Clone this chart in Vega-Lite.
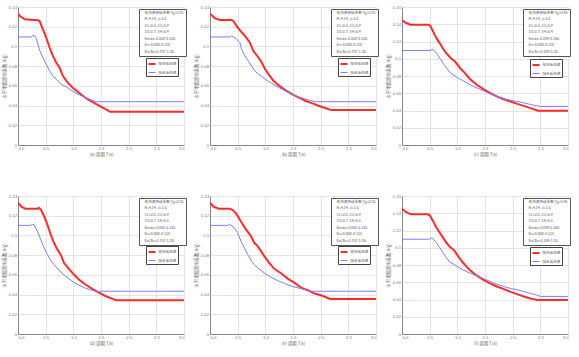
{
"$schema":"https://vega.github.io/schema/vega-lite/v6.json",
"background":"white",
"padding":{"left":1,"top":4,"right":2,"bottom":2},
"spacing":36,
"resolve":{"scale":{"color":"independent","strokeWidth":"independent","shape":"independent"},"legend":{"color":"independent","strokeWidth":"independent","shape":"independent"}},
"config":{
 "view":{"stroke":"#d8d8d8"},
 "concat":{"spacing":6},
 "axis":{"labelFontSize":4.2,"titleFontSize":4.4,"labelColor":"#777","titleColor":"#666","gridColor":"#e4e4e4","domainColor":"#888","tickSize":0,"labelPadding":1.5,"titlePadding":1.5,"labelFont":"Liberation Sans","titleFont":"Noto Sans CJK SC","titleFontWeight":"normal"},
 "legend":{"labelFont":"Noto Sans CJK SC","labelColor":"#555"}
},
"datasets":{
"p1":[
{"s":"规范反应谱","T":0,"v":0.1333},{"s":"规范反应谱","T":0.04,"v":0.1305},{"s":"规范反应谱","T":0.12,"v":0.1275},{"s":"规范反应谱","T":0.36,"v":0.1265},{"s":"规范反应谱","T":0.39,"v":0.1258},{"s":"规范反应谱","T":0.45,"v":0.1174},{"s":"规范反应谱","T":0.51,"v":0.109},{"s":"规范反应谱","T":0.57,"v":0.0989},{"s":"规范反应谱","T":0.63,"v":0.0904},{"s":"规范反应谱","T":0.69,"v":0.0837},{"s":"规范反应谱","T":0.75,"v":0.0786},{"s":"规范反应谱","T":0.81,"v":0.0702},{"s":"规范反应谱","T":0.875,"v":0.0651},{"s":"规范反应谱","T":0.935,"v":0.0611},{"s":"规范反应谱","T":0.996,"v":0.0577},{"s":"规范反应谱","T":1.117,"v":0.0523},{"s":"规范反应谱","T":1.237,"v":0.0472},{"s":"规范反应谱","T":1.358,"v":0.0432},{"s":"规范反应谱","T":1.479,"v":0.0395},{"s":"规范反应谱","T":1.6,"v":0.0358},{"s":"规范反应谱","T":1.66,"v":0.0337},{"s":"规范反应谱","T":3.0,"v":0.0337},
{"s":"拟合反应谱","T":0,"v":0.1096},{"s":"拟合反应谱","T":0.24,"v":0.1096},{"s":"拟合反应谱","T":0.27,"v":0.111},{"s":"拟合反应谱","T":0.3,"v":0.111},{"s":"拟合反应谱","T":0.33,"v":0.1083},{"s":"拟合反应谱","T":0.36,"v":0.1022},{"s":"拟合反应谱","T":0.39,"v":0.0961},{"s":"拟合反应谱","T":0.45,"v":0.0887},{"s":"拟合反应谱","T":0.51,"v":0.082},{"s":"拟合反应谱","T":0.57,"v":0.0752},{"s":"拟合反应谱","T":0.63,"v":0.0702},{"s":"拟合反应谱","T":0.69,"v":0.0668},{"s":"拟合反应谱","T":0.75,"v":0.0634},{"s":"拟合反应谱","T":0.81,"v":0.0607},{"s":"拟合反应谱","T":0.875,"v":0.059},{"s":"拟合反应谱","T":0.996,"v":0.0543},{"s":"拟合反应谱","T":1.117,"v":0.0506},{"s":"拟合反应谱","T":1.237,"v":0.0476},{"s":"拟合反应谱","T":1.358,"v":0.0449},{"s":"拟合反应谱","T":1.42,"v":0.0439},{"s":"拟合反应谱","T":3.0,"v":0.0439}
],
"p2":[
{"s":"规范反应谱","T":0,"v":0.1333},{"s":"规范反应谱","T":0.09,"v":0.1285},{"s":"规范反应谱","T":0.18,"v":0.1268},{"s":"规范反应谱","T":0.39,"v":0.1268},{"s":"规范反应谱","T":0.42,"v":0.1258},{"s":"规范反应谱","T":0.48,"v":0.1208},{"s":"规范反应谱","T":0.54,"v":0.1164},{"s":"规范反应谱","T":0.63,"v":0.1107},{"s":"规范反应谱","T":0.72,"v":0.104},{"s":"规范反应谱","T":0.78,"v":0.0955},{"s":"规范反应谱","T":0.875,"v":0.0888},{"s":"规范反应谱","T":0.935,"v":0.0837},{"s":"规范反应谱","T":0.996,"v":0.0769},{"s":"规范反应谱","T":1.056,"v":0.0719},{"s":"规范反应谱","T":1.147,"v":0.0651},{"s":"规范反应谱","T":1.237,"v":0.0607},{"s":"规范反应谱","T":1.358,"v":0.0557},{"s":"规范反应谱","T":1.479,"v":0.0516},{"s":"规范反应谱","T":1.6,"v":0.0483},{"s":"规范反应谱","T":1.72,"v":0.0449},{"s":"规范反应谱","T":1.84,"v":0.0425},{"s":"规范反应谱","T":1.96,"v":0.0398},{"s":"规范反应谱","T":2.08,"v":0.0375},{"s":"规范反应谱","T":2.19,"v":0.0354},{"s":"规范反应谱","T":3.0,"v":0.0354},
{"s":"拟合反应谱","T":0,"v":0.1096},{"s":"拟合反应谱","T":0.36,"v":0.1096},{"s":"拟合反应谱","T":0.39,"v":0.1106},{"s":"拟合反应谱","T":0.42,"v":0.11},{"s":"拟合反应谱","T":0.48,"v":0.1073},{"s":"拟合反应谱","T":0.54,"v":0.1039},{"s":"拟合反应谱","T":0.57,"v":0.0972},{"s":"拟合反应谱","T":0.63,"v":0.0904},{"s":"拟合反应谱","T":0.69,"v":0.0854},{"s":"拟合反应谱","T":0.75,"v":0.0803},{"s":"拟合反应谱","T":0.81,"v":0.0752},{"s":"拟合反应谱","T":0.875,"v":0.0719},{"s":"拟合反应谱","T":0.996,"v":0.0668},{"s":"拟合反应谱","T":1.117,"v":0.0624},{"s":"拟合反应谱","T":1.237,"v":0.0584},{"s":"拟合反应谱","T":1.358,"v":0.055},{"s":"拟合反应谱","T":1.479,"v":0.0516},{"s":"拟合反应谱","T":1.6,"v":0.0489},{"s":"拟合反应谱","T":1.72,"v":0.0466},{"s":"拟合反应谱","T":1.84,"v":0.0449},{"s":"拟合反应谱","T":1.9,"v":0.0439},{"s":"拟合反应谱","T":3.0,"v":0.0439}
],
"p3":[
{"s":"规范反应谱","T":0,"v":0.1447},{"s":"规范反应谱","T":0.06,"v":0.142},{"s":"规范反应谱","T":0.15,"v":0.1394},{"s":"规范反应谱","T":0.48,"v":0.1394},{"s":"规范反应谱","T":0.51,"v":0.1382},{"s":"规范反应谱","T":0.57,"v":0.1306},{"s":"规范反应谱","T":0.63,"v":0.123},{"s":"规范反应谱","T":0.69,"v":0.1173},{"s":"规范反应谱","T":0.75,"v":0.1108},{"s":"规范反应谱","T":0.81,"v":0.1058},{"s":"规范反应谱","T":0.875,"v":0.1012},{"s":"规范反应谱","T":0.966,"v":0.0962},{"s":"规范反应谱","T":1.056,"v":0.0886},{"s":"规范反应谱","T":1.117,"v":0.0848},{"s":"规范反应谱","T":1.237,"v":0.076},{"s":"规范反应谱","T":1.358,"v":0.0695},{"s":"规范反应谱","T":1.479,"v":0.0645},{"s":"规范反应谱","T":1.6,"v":0.0599},{"s":"规范反应谱","T":1.72,"v":0.0561},{"s":"规范反应谱","T":1.84,"v":0.0531},{"s":"规范反应谱","T":1.96,"v":0.0504},{"s":"规范反应谱","T":2.08,"v":0.0477},{"s":"规范反应谱","T":2.2,"v":0.0454},{"s":"规范反应谱","T":2.32,"v":0.0428},{"s":"规范反应谱","T":2.456,"v":0.0397},{"s":"规范反应谱","T":3.0,"v":0.0397},
{"s":"拟合反应谱","T":0,"v":0.1096},{"s":"拟合反应谱","T":0.51,"v":0.1096},{"s":"拟合反应谱","T":0.54,"v":0.1107},{"s":"拟合反应谱","T":0.57,"v":0.1103},{"s":"拟合反应谱","T":0.63,"v":0.1058},{"s":"拟合反应谱","T":0.69,"v":0.1001},{"s":"拟合反应谱","T":0.75,"v":0.0943},{"s":"拟合反应谱","T":0.81,"v":0.0886},{"s":"拟合反应谱","T":0.875,"v":0.0836},{"s":"拟合反应谱","T":0.996,"v":0.0783},{"s":"拟合反应谱","T":1.117,"v":0.0741},{"s":"拟合反应谱","T":1.237,"v":0.0695},{"s":"拟合反应谱","T":1.358,"v":0.0661},{"s":"拟合反应谱","T":1.479,"v":0.0626},{"s":"拟合反应谱","T":1.6,"v":0.0592},{"s":"拟合反应谱","T":1.72,"v":0.0561},{"s":"拟合反应谱","T":1.84,"v":0.0538},{"s":"拟合反应谱","T":1.96,"v":0.0519},{"s":"拟合反应谱","T":2.08,"v":0.0504},{"s":"拟合反应谱","T":2.2,"v":0.0489},{"s":"拟合反应谱","T":2.32,"v":0.047},{"s":"拟合反应谱","T":2.44,"v":0.0454},{"s":"拟合反应谱","T":2.5,"v":0.0447},{"s":"拟合反应谱","T":3.0,"v":0.0447}
],
"p4":[
{"s":"规范反应谱","T":0,"v":0.1332},{"s":"规范反应谱","T":0.06,"v":0.1292},{"s":"规范反应谱","T":0.13,"v":0.1271},{"s":"规范反应谱","T":0.35,"v":0.1271},{"s":"规范反应谱","T":0.38,"v":0.1278},{"s":"规范反应谱","T":0.41,"v":0.1264},{"s":"规范反应谱","T":0.47,"v":0.1197},{"s":"规范反应谱","T":0.53,"v":0.1112},{"s":"规范反应谱","T":0.59,"v":0.101},{"s":"规范反应谱","T":0.65,"v":0.0925},{"s":"规范反应谱","T":0.71,"v":0.0858},{"s":"规范反应谱","T":0.77,"v":0.0807},{"s":"规范反应谱","T":0.83,"v":0.0722},{"s":"规范反应谱","T":0.92,"v":0.0661},{"s":"规范反应谱","T":1.01,"v":0.0603},{"s":"规范反应谱","T":1.1,"v":0.0553},{"s":"规范反应谱","T":1.22,"v":0.0502},{"s":"规范反应谱","T":1.34,"v":0.0458},{"s":"规范反应谱","T":1.47,"v":0.0417},{"s":"规范反应谱","T":1.59,"v":0.0383},{"s":"规范反应谱","T":1.71,"v":0.0356},{"s":"规范反应谱","T":1.77,"v":0.0342},{"s":"规范反应谱","T":3.0,"v":0.0342},
{"s":"拟合反应谱","T":0,"v":0.1102},{"s":"拟合反应谱","T":0.22,"v":0.1102},{"s":"拟合反应谱","T":0.26,"v":0.1112},{"s":"拟合反应谱","T":0.29,"v":0.1108},{"s":"拟合反应谱","T":0.35,"v":0.1044},{"s":"拟合反应谱","T":0.41,"v":0.0959},{"s":"拟合反应谱","T":0.47,"v":0.0875},{"s":"拟合反应谱","T":0.53,"v":0.0807},{"s":"拟合反应谱","T":0.59,"v":0.0749},{"s":"拟合反应谱","T":0.65,"v":0.0705},{"s":"拟合反应谱","T":0.74,"v":0.0647},{"s":"拟合反应谱","T":0.86,"v":0.0586},{"s":"拟合反应谱","T":0.98,"v":0.0536},{"s":"拟合反应谱","T":1.1,"v":0.0495},{"s":"拟合反应谱","T":1.22,"v":0.0464},{"s":"拟合反应谱","T":1.35,"v":0.0441},{"s":"拟合反应谱","T":1.41,"v":0.0434},{"s":"拟合反应谱","T":3.0,"v":0.0434}
],
"p5":[
{"s":"规范反应谱","T":0,"v":0.1332},{"s":"规范反应谱","T":0.06,"v":0.1292},{"s":"规范反应谱","T":0.16,"v":0.1271},{"s":"规范反应谱","T":0.36,"v":0.1271},{"s":"规范反应谱","T":0.41,"v":0.1258},{"s":"规范反应谱","T":0.47,"v":0.1224},{"s":"规范反应谱","T":0.53,"v":0.117},{"s":"规范反应谱","T":0.59,"v":0.1112},{"s":"规范反应谱","T":0.65,"v":0.1061},{"s":"规范反应谱","T":0.74,"v":0.0993},{"s":"规范反应谱","T":0.8,"v":0.0925},{"s":"规范反应谱","T":0.86,"v":0.0892},{"s":"规范反应谱","T":0.92,"v":0.0841},{"s":"规范反应谱","T":0.98,"v":0.079},{"s":"规范反应谱","T":1.07,"v":0.0722},{"s":"规范反应谱","T":1.16,"v":0.0661},{"s":"规范反应谱","T":1.29,"v":0.0614},{"s":"规范反应谱","T":1.41,"v":0.0559},{"s":"规范反应谱","T":1.53,"v":0.0519},{"s":"规范反应谱","T":1.65,"v":0.0468},{"s":"规范反应谱","T":1.77,"v":0.0444},{"s":"规范反应谱","T":1.89,"v":0.041},{"s":"规范反应谱","T":2.02,"v":0.039},{"s":"规范反应谱","T":2.17,"v":0.0356},{"s":"规范反应谱","T":3.0,"v":0.0356},
{"s":"拟合反应谱","T":0,"v":0.1102},{"s":"拟合反应谱","T":0.32,"v":0.1102},{"s":"拟合反应谱","T":0.35,"v":0.1112},{"s":"拟合反应谱","T":0.38,"v":0.1102},{"s":"拟合反应谱","T":0.44,"v":0.1078},{"s":"拟合反应谱","T":0.5,"v":0.1027},{"s":"拟合反应谱","T":0.56,"v":0.0942},{"s":"拟合反应谱","T":0.62,"v":0.0875},{"s":"拟合反应谱","T":0.68,"v":0.0807},{"s":"拟合反应谱","T":0.74,"v":0.0749},{"s":"拟合反应谱","T":0.8,"v":0.0705},{"s":"拟合反应谱","T":0.86,"v":0.0671},{"s":"拟合反应谱","T":0.98,"v":0.062},{"s":"拟合反应谱","T":1.1,"v":0.0576},{"s":"拟合反应谱","T":1.22,"v":0.0542},{"s":"拟合反应谱","T":1.35,"v":0.0512},{"s":"拟合反应谱","T":1.47,"v":0.0485},{"s":"拟合反应谱","T":1.59,"v":0.0468},{"s":"拟合反应谱","T":1.71,"v":0.0451},{"s":"拟合反应谱","T":1.8,"v":0.0434},{"s":"拟合反应谱","T":3.0,"v":0.0434}
],
"p6":[
{"s":"规范反应谱","T":0,"v":0.1453},{"s":"规范反应谱","T":0.07,"v":0.1415},{"s":"规范反应谱","T":0.16,"v":0.1388},{"s":"规范反应谱","T":0.47,"v":0.1388},{"s":"规范反应谱","T":0.5,"v":0.1376},{"s":"规范反应谱","T":0.56,"v":0.1311},{"s":"规范反应谱","T":0.62,"v":0.1234},{"s":"规范反应谱","T":0.68,"v":0.1176},{"s":"规范反应谱","T":0.74,"v":0.1118},{"s":"规范反应谱","T":0.8,"v":0.106},{"s":"规范反应谱","T":0.86,"v":0.1014},{"s":"规范反应谱","T":0.95,"v":0.0964},{"s":"规范反应谱","T":1.01,"v":0.0906},{"s":"规范反应谱","T":1.1,"v":0.0829},{"s":"规范反应谱","T":1.22,"v":0.0744},{"s":"规范反应谱","T":1.34,"v":0.0682},{"s":"规范反应谱","T":1.47,"v":0.0628},{"s":"规范反应谱","T":1.59,"v":0.0586},{"s":"规范反应谱","T":1.71,"v":0.0551},{"s":"规范反应谱","T":1.84,"v":0.052},{"s":"规范反应谱","T":1.96,"v":0.0489},{"s":"规范反应谱","T":2.08,"v":0.0462},{"s":"规范反应谱","T":2.2,"v":0.0435},{"s":"规范反应谱","T":2.32,"v":0.0412},{"s":"规范反应谱","T":2.45,"v":0.0393},{"s":"规范反应谱","T":3.0,"v":0.0393},
{"s":"拟合反应谱","T":0,"v":0.1099},{"s":"拟合反应谱","T":0.5,"v":0.1099},{"s":"拟合反应谱","T":0.53,"v":0.1114},{"s":"拟合反应谱","T":0.56,"v":0.1106},{"s":"拟合反应谱","T":0.62,"v":0.106},{"s":"拟合反应谱","T":0.68,"v":0.1002},{"s":"拟合反应谱","T":0.74,"v":0.0944},{"s":"拟合反应谱","T":0.8,"v":0.0887},{"s":"拟合反应谱","T":0.86,"v":0.0837},{"s":"拟合反应谱","T":0.98,"v":0.079},{"s":"拟合反应谱","T":1.1,"v":0.0744},{"s":"拟合反应谱","T":1.23,"v":0.0705},{"s":"拟合反应谱","T":1.35,"v":0.0675},{"s":"拟合反应谱","T":1.47,"v":0.0644},{"s":"拟合反应谱","T":1.59,"v":0.0609},{"s":"拟合反应谱","T":1.71,"v":0.0578},{"s":"拟合反应谱","T":1.84,"v":0.0551},{"s":"拟合反应谱","T":1.96,"v":0.0528},{"s":"拟合反应谱","T":2.08,"v":0.0513},{"s":"拟合反应谱","T":2.2,"v":0.0493},{"s":"拟合反应谱","T":2.32,"v":0.047},{"s":"拟合反应谱","T":2.44,"v":0.0451},{"s":"拟合反应谱","T":2.5,"v":0.0436},{"s":"拟合反应谱","T":3.0,"v":0.0436}
],
"i1":[{"info":"规范谱特征参数 Tg=0.35"},{"info":"R=4.14, γ=1.5"},{"info":"S1=0.5, S2=0.9"},{"info":"S3=0.7, S4=0.4"},{"info":"Bmax=0.055-0.155"},{"info":"Bv=0.088-0.110"},{"info":"Ba/Bv=0.707-1.36"}],
"i2":[{"info":"规范谱特征参数 Tg=0.35"},{"info":"R=4.14, γ=1.5"},{"info":"S1=0.5, S2=0.9"},{"info":"S3=0.7, S4=0.4"},{"info":"Bmax=0.055-0.155"},{"info":"Bv=0.088-0.110"},{"info":"Ba/Bv=0.707-1.38"}],
"i3":[{"info":"规范谱特征参数 Tg=0.45"},{"info":"R=4.14, γ=1.5"},{"info":"S1=0.5, S2=0.9"},{"info":"S3=0.7, S4=0.4"},{"info":"Bmax=0.059-0.165"},{"info":"Bv=0.088-0.110"},{"info":"Ba/Bv=0.359-1.35"}],
"i4":[{"info":"规范谱特征参数 Tg=0.35"},{"info":"R=4.14, γ=1.5"},{"info":"S1=0.5, S2=0.9"},{"info":"S3=0.7, S4=0.5"},{"info":"Bmax=0.055-0.155"},{"info":"Bv=0.088-0.110"},{"info":"Ba/Bv=0.707-1.38"}],
"i5":[{"info":"规范谱特征参数 Tg=0.35"},{"info":"R=4.14, γ=1.5"},{"info":"S1=0.5, S2=0.9"},{"info":"S3=0.7, S4=0.5"},{"info":"Bmax=0.055-0.155"},{"info":"Bv=0.088-0.110"},{"info":"Ba/Bv=0.707-1.36"}],
"i6":[{"info":"规范谱特征参数 Tg=0.45"},{"info":"R=4.14, γ=1.5"},{"info":"S1=0.5, S2=0.9"},{"info":"S3=0.7, S4=0.5"},{"info":"Bmax=0.059-0.165"},{"info":"Bv=0.088-0.110"},{"info":"Ba/Bv=0.359-1.35"}]
},
"vconcat":[
{"resolve":{"scale":{"color":"independent","strokeWidth":"independent","shape":"independent"},"legend":{"color":"independent","strokeWidth":"independent","shape":"independent"}},
"hconcat":[
{"width":166,"height":138,"layer":[
 {"data":{"name":"p1"},"mark":{"type":"line","clip":true},"encoding":{
  "x":{"field":"T","type":"quantitative","scale":{"domain":[0,3],"nice":false},"axis":{"values":[0,0.5,1,1.5,2,2.5,3],"format":".1f","title":"(a)      周期 T(s)"}},
  "y":{"field":"v","type":"quantitative","scale":{"domain":[0,0.14],"nice":false},"axis":{"values":[0,0.02,0.04,0.06,0.08,0.1,0.12,0.14],"format":".2~f","title":"水平地震影响系数 α(g)"}},
  "color":{"field":"s","type":"nominal","scale":{"domain":["规范反应谱","拟合反应谱"],"range":["#ff2b2b","#7d7dff"]},"legend":{"title":null,"orient":"none","legendX":128,"legendY":51,"labelFontSize":3.6,"symbolType":"stroke","symbolSize":49,"padding":1.5,"rowPadding":0,"labelOffset":2,"strokeColor":"#444","fillColor":"white"}},
  "strokeWidth":{"field":"s","type":"nominal","scale":{"type":"ordinal","domain":["规范反应谱","拟合反应谱"],"range":[2,1]},"legend":{"title":null,"orient":"none","legendX":128,"legendY":51,"labelFontSize":3.6,"symbolType":"stroke","symbolSize":49,"padding":1.5,"rowPadding":0,"labelOffset":2,"strokeColor":"#444","fillColor":"white"}}}},
 {"data":{"name":"i1"},"mark":{"type":"point","opacity":0},"encoding":{"shape":{"field":"info","type":"nominal","sort":null,"legend":{"title":null,"orient":"none","legendX":121,"legendY":2,"labelFontSize":3.6,"symbolSize":0,"symbolOpacity":0,"symbolStrokeWidth":0,"labelOffset":0,"padding":2,"rowPadding":1.5,"strokeColor":"#555","fillColor":"white","labelLimit":300}}}}
]},
{"width":166,"height":138,"layer":[
 {"data":{"name":"p2"},"mark":{"type":"line","clip":true},"encoding":{
  "x":{"field":"T","type":"quantitative","scale":{"domain":[0,3],"nice":false},"axis":{"values":[0,0.5,1,1.5,2,2.5,3],"format":".1f","title":"(b)      周期 T(s)"}},
  "y":{"field":"v","type":"quantitative","scale":{"domain":[0,0.14],"nice":false},"axis":{"values":[0,0.02,0.04,0.06,0.08,0.1,0.12,0.14],"format":".2~f","title":"水平地震影响系数 α(g)"}},
  "color":{"field":"s","type":"nominal","scale":{"domain":["规范反应谱","拟合反应谱"],"range":["#ff2b2b","#7d7dff"]},"legend":{"title":null,"orient":"none","legendX":128,"legendY":51,"labelFontSize":3.6,"symbolType":"stroke","symbolSize":49,"padding":1.5,"rowPadding":0,"labelOffset":2,"strokeColor":"#444","fillColor":"white"}},
  "strokeWidth":{"field":"s","type":"nominal","scale":{"type":"ordinal","domain":["规范反应谱","拟合反应谱"],"range":[2,1]},"legend":{"title":null,"orient":"none","legendX":128,"legendY":51,"labelFontSize":3.6,"symbolType":"stroke","symbolSize":49,"padding":1.5,"rowPadding":0,"labelOffset":2,"strokeColor":"#444","fillColor":"white"}}}},
 {"data":{"name":"i2"},"mark":{"type":"point","opacity":0},"encoding":{"shape":{"field":"info","type":"nominal","sort":null,"legend":{"title":null,"orient":"none","legendX":121,"legendY":2,"labelFontSize":3.6,"symbolSize":0,"symbolOpacity":0,"symbolStrokeWidth":0,"labelOffset":0,"padding":2,"rowPadding":1.5,"strokeColor":"#555","fillColor":"white","labelLimit":300}}}}
]},
{"width":166,"height":138,"layer":[
 {"data":{"name":"p3"},"mark":{"type":"line","clip":true},"encoding":{
  "x":{"field":"T","type":"quantitative","scale":{"domain":[0,3],"nice":false},"axis":{"values":[0,0.5,1,1.5,2,2.5,3],"format":".1f","title":"(c)      周期 T(s)"}},
  "y":{"field":"v","type":"quantitative","scale":{"domain":[0,0.16],"nice":false},"axis":{"values":[0,0.02,0.04,0.06,0.08,0.1,0.12,0.14,0.16],"format":".2~f","title":"水平地震影响系数 α(g)"}},
  "color":{"field":"s","type":"nominal","scale":{"domain":["规范反应谱","拟合反应谱"],"range":["#ff2b2b","#7d7dff"]},"legend":{"title":null,"orient":"none","legendX":128,"legendY":52,"labelFontSize":3.6,"symbolType":"stroke","symbolSize":49,"padding":1.5,"rowPadding":0,"labelOffset":2,"strokeColor":"#444","fillColor":"white"}},
  "strokeWidth":{"field":"s","type":"nominal","scale":{"type":"ordinal","domain":["规范反应谱","拟合反应谱"],"range":[2,1]},"legend":{"title":null,"orient":"none","legendX":128,"legendY":52,"labelFontSize":3.6,"symbolType":"stroke","symbolSize":49,"padding":1.5,"rowPadding":0,"labelOffset":2,"strokeColor":"#444","fillColor":"white"}}}},
 {"data":{"name":"i3"},"mark":{"type":"point","opacity":0},"encoding":{"shape":{"field":"info","type":"nominal","sort":null,"legend":{"title":null,"orient":"none","legendX":121,"legendY":2,"labelFontSize":3.6,"symbolSize":0,"symbolOpacity":0,"symbolStrokeWidth":0,"labelOffset":0,"padding":2,"rowPadding":1.5,"strokeColor":"#555","fillColor":"white","labelLimit":300}}}}
]}
]},
{"resolve":{"scale":{"color":"independent","strokeWidth":"independent","shape":"independent"},"legend":{"color":"independent","strokeWidth":"independent","shape":"independent"}},
"hconcat":[
{"width":166,"height":138,"layer":[
 {"data":{"name":"p4"},"mark":{"type":"line","clip":true},"encoding":{
  "x":{"field":"T","type":"quantitative","scale":{"domain":[0,3],"nice":false},"axis":{"values":[0,0.5,1,1.5,2,2.5,3],"format":".1f","title":"(d)      周期 T(s)"}},
  "y":{"field":"v","type":"quantitative","scale":{"domain":[0,0.14],"nice":false},"axis":{"values":[0,0.02,0.04,0.06,0.08,0.1,0.12,0.14],"format":".2~f","title":"水平地震影响系数 α(g)"}},
  "color":{"field":"s","type":"nominal","scale":{"domain":["规范反应谱","拟合反应谱"],"range":["#ff2b2b","#7d7dff"]},"legend":{"title":null,"orient":"none","legendX":128,"legendY":50,"labelFontSize":3.6,"symbolType":"stroke","symbolSize":49,"padding":1.5,"rowPadding":0,"labelOffset":2,"strokeColor":"#444","fillColor":"white"}},
  "strokeWidth":{"field":"s","type":"nominal","scale":{"type":"ordinal","domain":["规范反应谱","拟合反应谱"],"range":[2,1]},"legend":{"title":null,"orient":"none","legendX":128,"legendY":50,"labelFontSize":3.6,"symbolType":"stroke","symbolSize":49,"padding":1.5,"rowPadding":0,"labelOffset":2,"strokeColor":"#444","fillColor":"white"}}}},
 {"data":{"name":"i4"},"mark":{"type":"point","opacity":0},"encoding":{"shape":{"field":"info","type":"nominal","sort":null,"legend":{"title":null,"orient":"none","legendX":121,"legendY":2,"labelFontSize":3.6,"symbolSize":0,"symbolOpacity":0,"symbolStrokeWidth":0,"labelOffset":0,"padding":2,"rowPadding":1.5,"strokeColor":"#555","fillColor":"white","labelLimit":300}}}}
]},
{"width":166,"height":138,"layer":[
 {"data":{"name":"p5"},"mark":{"type":"line","clip":true},"encoding":{
  "x":{"field":"T","type":"quantitative","scale":{"domain":[0,3],"nice":false},"axis":{"values":[0,0.5,1,1.5,2,2.5,3],"format":".1f","title":"(e)      周期 T(s)"}},
  "y":{"field":"v","type":"quantitative","scale":{"domain":[0,0.14],"nice":false},"axis":{"values":[0,0.02,0.04,0.06,0.08,0.1,0.12,0.14],"format":".2~f","title":"水平地震影响系数 α(g)"}},
  "color":{"field":"s","type":"nominal","scale":{"domain":["规范反应谱","拟合反应谱"],"range":["#ff2b2b","#7d7dff"]},"legend":{"title":null,"orient":"none","legendX":128,"legendY":50,"labelFontSize":3.6,"symbolType":"stroke","symbolSize":49,"padding":1.5,"rowPadding":0,"labelOffset":2,"strokeColor":"#444","fillColor":"white"}},
  "strokeWidth":{"field":"s","type":"nominal","scale":{"type":"ordinal","domain":["规范反应谱","拟合反应谱"],"range":[2,1]},"legend":{"title":null,"orient":"none","legendX":128,"legendY":50,"labelFontSize":3.6,"symbolType":"stroke","symbolSize":49,"padding":1.5,"rowPadding":0,"labelOffset":2,"strokeColor":"#444","fillColor":"white"}}}},
 {"data":{"name":"i5"},"mark":{"type":"point","opacity":0},"encoding":{"shape":{"field":"info","type":"nominal","sort":null,"legend":{"title":null,"orient":"none","legendX":121,"legendY":2,"labelFontSize":3.6,"symbolSize":0,"symbolOpacity":0,"symbolStrokeWidth":0,"labelOffset":0,"padding":2,"rowPadding":1.5,"strokeColor":"#555","fillColor":"white","labelLimit":300}}}}
]},
{"width":166,"height":138,"layer":[
 {"data":{"name":"p6"},"mark":{"type":"line","clip":true},"encoding":{
  "x":{"field":"T","type":"quantitative","scale":{"domain":[0,3],"nice":false},"axis":{"values":[0,0.5,1,1.5,2,2.5,3],"format":".1f","title":"(f)      周期 T(s)"}},
  "y":{"field":"v","type":"quantitative","scale":{"domain":[0,0.16],"nice":false},"axis":{"values":[0,0.02,0.04,0.06,0.08,0.1,0.12,0.14,0.16],"format":".2~f","title":"水平地震影响系数 α(g)"}},
  "color":{"field":"s","type":"nominal","scale":{"domain":["规范反应谱","拟合反应谱"],"range":["#ff2b2b","#7d7dff"]},"legend":{"title":null,"orient":"none","legendX":128,"legendY":51,"labelFontSize":3.6,"symbolType":"stroke","symbolSize":49,"padding":1.5,"rowPadding":0,"labelOffset":2,"strokeColor":"#444","fillColor":"white"}},
  "strokeWidth":{"field":"s","type":"nominal","scale":{"type":"ordinal","domain":["规范反应谱","拟合反应谱"],"range":[2,1]},"legend":{"title":null,"orient":"none","legendX":128,"legendY":51,"labelFontSize":3.6,"symbolType":"stroke","symbolSize":49,"padding":1.5,"rowPadding":0,"labelOffset":2,"strokeColor":"#444","fillColor":"white"}}}},
 {"data":{"name":"i6"},"mark":{"type":"point","opacity":0},"encoding":{"shape":{"field":"info","type":"nominal","sort":null,"legend":{"title":null,"orient":"none","legendX":121,"legendY":2,"labelFontSize":3.6,"symbolSize":0,"symbolOpacity":0,"symbolStrokeWidth":0,"labelOffset":0,"padding":2,"rowPadding":1.5,"strokeColor":"#555","fillColor":"white","labelLimit":300}}}}
]}
]}
]
}
